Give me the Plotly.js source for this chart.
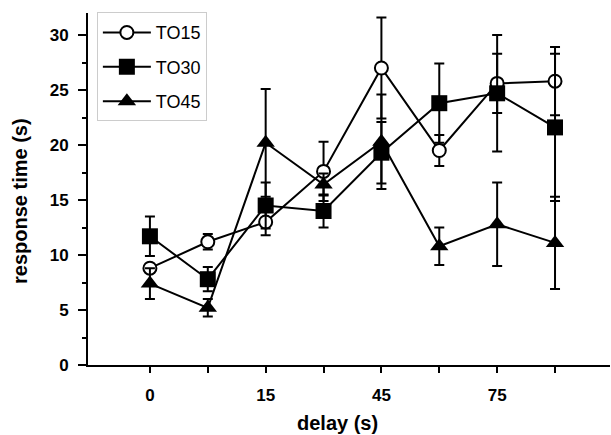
<!DOCTYPE html>
<html>
<head>
<meta charset="utf-8">
<script src="https://cdn.plot.ly/plotly-3.0.1.min.js"></script>
<style>
html, body { margin: 0; padding: 0; background: #fff; }
#chart { width: 611px; height: 435px; }
</style>
</head>
<body>
<div id="chart"></div>
<script>
// Delay positions (evenly spaced) and their tick labels
const delayIndex = [0, 1, 2, 3, 4, 5, 6, 7];
const delayTickText = ["0", "", "15", "", "45", "", "75", ""];

// Series values (response time, s) and error bars
const to15 = [8.8, 11.2, 13.0, 17.6, 27.0, 19.5, 25.6, 25.8];
const to15Err = [0.4, 0.7, 1.2, 2.7, 4.6, 1.4, 2.7, 3.1];
const to30 = [11.7, 7.8, 14.5, 14.0, 19.3, 23.8, 24.7, 21.6];
const to30Err = [1.8, 1.1, 2.1, 1.5, 2.8, 3.6, 5.3, 6.7];
const to45 = [7.4, 5.2, 20.2, 16.4, 20.3, 10.8, 12.8, 11.1];
const to45Err = [1.4, 0.8, 4.9, 1.0, 4.3, 1.7, 3.8, 4.2];

const yTickVals = [0, 5, 10, 15, 20, 25, 30];

const FONT = "Liberation Sans, Arial, sans-serif";

function errBar(arr) {
  return { type: "data", array: arr, visible: true, color: "#000", thickness: 2, width: 5 };
}

const traces = [
  {
    name: "TO15", legendgroup: "a", x: delayIndex, y: to15, type: "scatter", mode: "lines+markers",
    line: { color: "#000", width: 2 },
    marker: { symbol: "circle", size: 13, color: "#fff", line: { color: "#000", width: 2 } },
    error_y: errBar(to15Err)
  },
  {
    name: "TO30", legendgroup: "b", x: delayIndex, y: to30, type: "scatter", mode: "lines+markers",
    line: { color: "#000", width: 2 },
    marker: { symbol: "square", size: 16, color: "#000" },
    error_y: errBar(to30Err)
  },
  {
    name: "TO45", legendgroup: "c", x: delayIndex, y: to45, type: "scatter", mode: "lines+markers",
    line: { color: "#000", width: 2 },
    marker: { symbol: "triangle-up", size: 16, color: "#000" },
    error_y: errBar(to45Err)
  }
];

const layout = {
  width: 611, height: 435,
  margin: { l: 88, r: 1, t: 13, b: 70 },
  paper_bgcolor: "#fff", plot_bgcolor: "#fff",
  showlegend: true,
  legend: {
    x: 0.017, y: 1.003, xanchor: "left", yanchor: "top",
    bgcolor: "#fff", bordercolor: "#cccccc", borderwidth: 1,
    font: { family: FONT, size: 18, color: "#000" },
    title: { text: " ", font: { family: FONT, size: 1 } },
    itemwidth: 48,
    tracegroupgap: 8
  },
  xaxis: {
    range: [-1.07, 7.95],
    tickmode: "array", tickvals: delayIndex, ticktext: delayTickText,
    ticks: "outside", ticklen: 6, tickwidth: 2, tickcolor: "#000",
    showline: true, linecolor: "#000", linewidth: 2,
    showgrid: false, zeroline: false,
    tickfont: { family: FONT, size: 17, color: "#000", weight: "bold" },
    ticklabelstandoff: 8
  },
  yaxis: {
    range: [0, 32],
    tickmode: "array", tickvals: yTickVals,
    ticks: "outside", ticklen: 8, tickwidth: 2, tickcolor: "#000",
    minor: { dtick: 2.5, tick0: 0, ticks: "outside", ticklen: 4, tickwidth: 2, tickcolor: "#000", showgrid: false },
    showline: true, linecolor: "#000", linewidth: 2,
    showgrid: false, zeroline: false,
    tickfont: { family: FONT, size: 17, color: "#000", weight: "bold" },
    ticklabelstandoff: 6
  },
  annotations: [
    {
      text: "delay (s)", xref: "paper", yref: "paper",
      x: (337 - 88) / 522, y: -(423 - 365) / 352, xanchor: "center", yanchor: "middle",
      showarrow: false, font: { family: FONT, size: 20, color: "#000", weight: "bold" }
    },
    {
      text: "response time (s)", xref: "paper", yref: "paper",
      x: -(88 - 20) / 522, y: (365 - 201) / 352, xanchor: "center", yanchor: "middle",
      textangle: -90,
      showarrow: false, font: { family: FONT, size: 20, color: "#000", weight: "bold" }
    }
  ]
};

Plotly.newPlot("chart", traces, layout, { displayModeBar: false, staticPlot: true });
</script>
</body>
</html>
